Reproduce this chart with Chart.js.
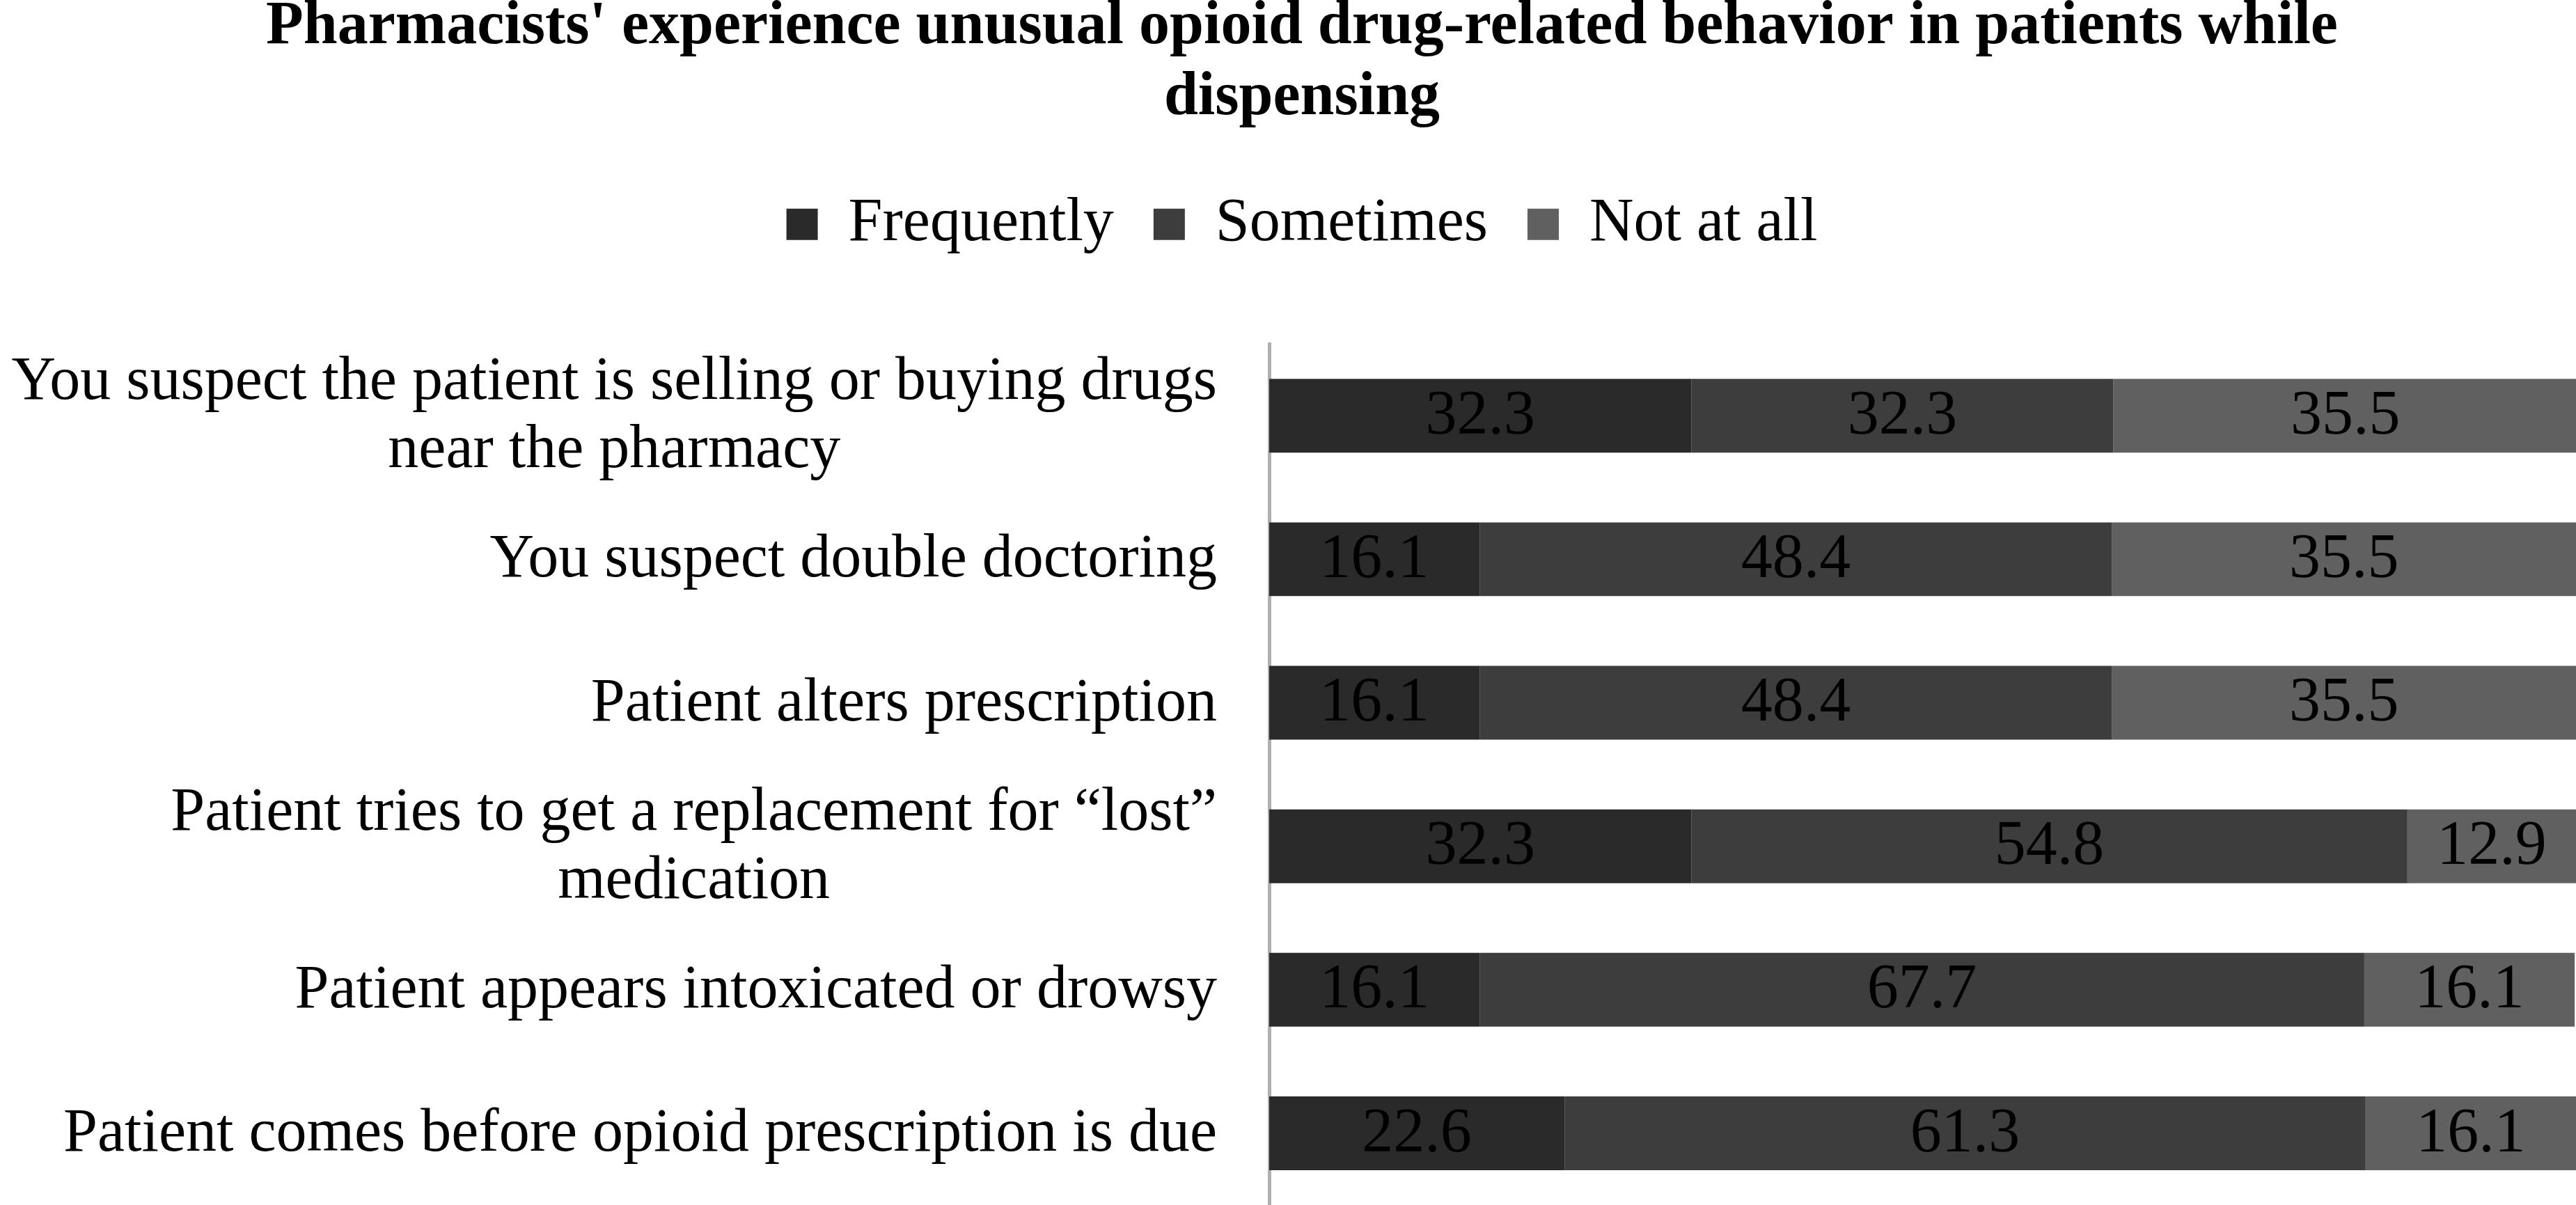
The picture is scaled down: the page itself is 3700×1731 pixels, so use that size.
<!DOCTYPE html>
<html>
<head>
<meta charset="utf-8">
<script src="https://cdn.jsdelivr.net/npm/chart.js@4.4.0/dist/chart.umd.min.js"></script>
<style>
  html, body { margin: 0; padding: 0; background: #fff; }
  #wrap { width: 3700px; height: 1731px; position: relative; }
</style>
</head>
<body>
<div id="wrap"><canvas id="behaviorChart"></canvas></div>
<script>
const categories = [
    ['You suspect the patient is selling or buying drugs', 'near the pharmacy'],
    'You suspect double doctoring',
    'Patient alters prescription',
    ['Patient tries to get a replacement for \u201clost\u201d', 'medication'],
    'Patient appears intoxicated or drowsy',
    'Patient comes before opioid prescription is due'
];
const frequently = [32.3, 16.1, 16.1, 32.3, 16.1, 22.6];
const sometimes  = [32.3, 48.4, 48.4, 54.8, 67.7, 61.3];
const notAtAll   = [35.5, 35.5, 35.5, 12.9, 16.1, 16.1];
const seriesNames = ['Frequently', 'Sometimes', 'Not at all'];
const seriesColors = ['#2a2a2a', '#3d3d3d', '#606060'];

const serif = "'Liberation Serif', 'Times New Roman', serif";

// draws the category labels (right aligned block, lines centred) and the values in the bars
const labelPlugin = {
    id: 'labelPlugin',
    afterDatasetsDraw(chart) {
        const ctx = chart.ctx;
        const yScale = chart.scales.y;
        const area = chart.chartArea;
        ctx.save();
        ctx.fillStyle = '#000';
        ctx.textBaseline = 'middle';

        // values
        ctx.font = '90px ' + serif;
        ctx.textAlign = 'center';
        chart.data.datasets.forEach((ds, di) => {
            const meta = chart.getDatasetMeta(di);
            meta.data.forEach((bar, i) => {
                const p = bar.getProps(['x', 'y', 'base'], true);
                ctx.fillText(ds.data[i].toFixed(1), (p.x + p.base) / 2, p.y + 2);
            });
        });

        // category labels
        ctx.font = '88px ' + serif;
        const rightX = area.left - 75;
        const lineH = 98;
        categories.forEach((lab, i) => {
            const lines = Array.isArray(lab) ? lab : [lab];
            const widths = lines.map(l => ctx.measureText(l).width);
            const blockW = Math.max(...widths);
            const cx = rightX - blockW / 2;
            const cy = yScale.getPixelForTick(i);
            lines.forEach((l, k) => {
                ctx.fillText(l, cx, cy + 2 + (k - (lines.length - 1) / 2) * lineH);
            });
        });
        ctx.restore();
    }
};

const chartData = {
    labels: categories,
    datasets: [
        { label: seriesNames[0], data: frequently, backgroundColor: seriesColors[0] },
        { label: seriesNames[1], data: sometimes, backgroundColor: seriesColors[1] },
        { label: seriesNames[2], data: notAtAll, backgroundColor: seriesColors[2] }
    ]
};

const chartOptions = {
    indexAxis: 'y',
    responsive: true,
    maintainAspectRatio: false,
    animation: false,
    layout: { padding: { left: 40, right: 0, top: 0, bottom: 0 } },
    datasets: {
        bar: { barPercentage: 0.514, categoryPercentage: 1, borderWidth: 0 }
    },
    plugins: {
        title: {
            display: true,
            text: ["Pharmacists' experience unusual opioid drug-related behavior in patients while", 'dispensing'],
            color: '#000',
            font: { family: serif, size: 88, weight: 'bold', lineHeight: 1.16 },
            padding: { top: -12, bottom: 29 }
        },
        legend: {
            display: true,
            position: 'top',
            labels: {
                color: '#000',
                font: { family: serif, size: 88 },
                boxWidth: 45,
                boxHeight: 45,
                padding: 57
            }
        },
        tooltip: { enabled: false }
    },
    scales: {
        x: {
            stacked: true,
            position: 'top',
            min: 0,
            max: 100,
            grid: { display: false },
            border: { display: false },
            ticks: { display: false },
            afterFit: (s) => { s.height = 118; }
        },
        y: {
            stacked: true,
            grid: { display: false },
            border: { display: true, color: '#b0b0b0', width: 5 },
            ticks: { display: false },
            afterFit: (s) => { s.width = 1823 - 40; }
        }
    }
};

const behaviorChart = new Chart(document.getElementById('behaviorChart'), {
    type: 'bar',
    data: chartData,
    options: chartOptions,
    plugins: [labelPlugin]
});
</script>
</body>
</html>
